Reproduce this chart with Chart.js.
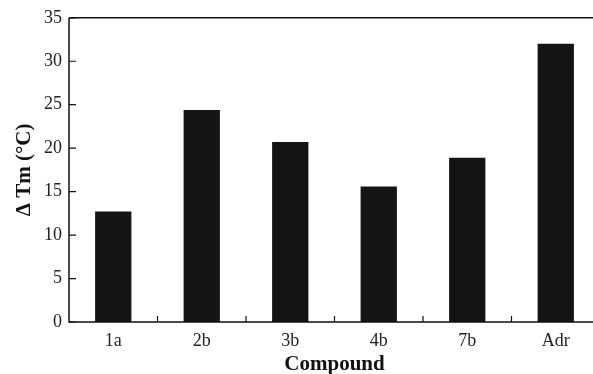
<!DOCTYPE html>
<html>
<head>
<meta charset="utf-8">
<script src="https://cdn.jsdelivr.net/npm/chart.js@4"></script>
<style>
  html, body { margin: 0; padding: 0; background: #fff; overflow: hidden; }
  #wrap { width: 601px; height: 374px; }
</style>
</head>
<body>
<div id="wrap"><canvas id="myChart"></canvas></div>
<script>
// Delta Tm per compound
var compounds = ['1a', '2b', '3b', '4b', '7b', 'Adr'];
var deltaTm = [12.7, 24.4, 20.7, 15.6, 18.9, 32];
var yTicks = [0, 5, 10, 15, 20, 25, 30, 35];

var serif = '"Liberation Serif", "DejaVu Serif", serif';

// frame and inner ticks, like the original figure
var framePlugin = {
    id: 'frame',
    afterDraw: function (chart) {
        var c = chart.ctx, a = chart.chartArea;
        var x = chart.scales.x, y = chart.scales.y;
        c.save();
        c.strokeStyle = '#111';
        c.lineWidth = 1.5;
        c.beginPath();
        c.moveTo(a.left, a.top);
        c.lineTo(a.right, a.top);
        c.moveTo(a.left, a.top);
        c.lineTo(a.left, a.bottom);
        c.lineTo(a.right, a.bottom);
        c.stroke();
        c.lineWidth = 1.2;
        c.beginPath();
        yTicks.forEach(function (v) {
            var py = y.getPixelForValue(v);
            c.moveTo(a.left, py);
            c.lineTo(a.left + 7, py);
        });
        for (var i = 1; i < compounds.length; i++) {
            var px = (x.getPixelForValue(i - 1) + x.getPixelForValue(i)) / 2;
            c.moveTo(px, a.bottom);
            c.lineTo(px, a.bottom - 6);
        }
        c.stroke();
        c.restore();
    }
};

var ctx = document.getElementById('myChart').getContext('2d');

var myChart = new Chart(ctx, {
    type: 'bar',
    data: {
        labels: compounds,
        datasets: [{
            label: 'ΔTm',
            data: deltaTm,
            backgroundColor: '#131514',
            categoryPercentage: 1.0,
            barPercentage: 0.41
        }]
    },
    options: {
        responsive: true,
        maintainAspectRatio: false,
        animation: false,
        layout: { padding: { top: 16, right: 1, left: 0, bottom: 0 } },
        plugins: {
            legend: { display: false },
            tooltip: { enabled: false }
        },
        scales: {
            x: {
                grid: { display: false, drawTicks: false },
                border: { display: false },
                ticks: {
                    color: '#222',
                    padding: 8,
                    font: { family: serif, size: 18 }
                },
                title: {
                    display: true,
                    text: 'Compound',
                    color: '#111',
                    padding: { top: 0, bottom: -3 },
                    font: { family: serif, size: 21, weight: 'bold' }
                },
                afterFit: function (s) { s.height = 52; }
            },
            y: {
                min: 0,
                max: 35,
                grid: { display: false, drawTicks: false },
                border: { display: false },
                afterBuildTicks: function (s) {
                    s.ticks = yTicks.map(function (v) { return { value: v }; });
                },
                ticks: {
                    color: '#222',
                    padding: 7,
                    font: { family: serif, size: 18 }
                },
                title: {
                    display: true,
                    text: 'Δ Tm (°C)',
                    color: '#111',
                    padding: { top: 12, bottom: 0 },
                    font: { family: serif, size: 21, weight: 'bold' }
                },
                afterFit: function (s) { s.width = 69; }
            }
        }
    },
    plugins: [framePlugin]
});
</script>
</body>
</html>
